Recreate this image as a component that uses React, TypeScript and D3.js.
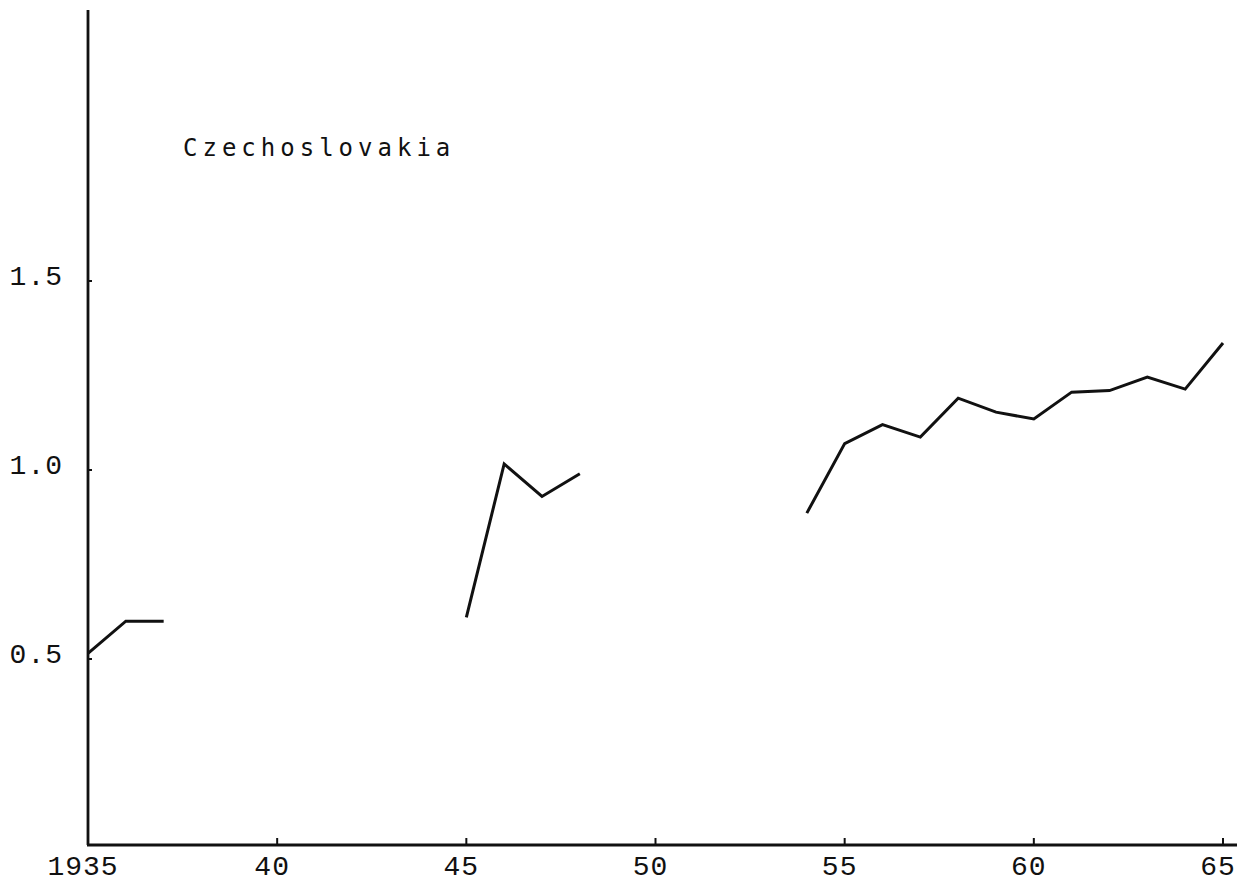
import { useEffect, useRef } from 'react'
import * as d3 from 'd3'

// years along the axis, value per year (null = no data, the line breaks)
const years = [
  1935, 1936, 1937, 1938, 1939, 1940, 1941, 1942, 1943, 1944,
  1945, 1946, 1947, 1948, 1949, 1950, 1951, 1952, 1953, 1954,
  1955, 1956, 1957, 1958, 1959, 1960, 1961, 1962, 1963, 1964, 1965,
]
const values: (number | null)[] = [
  0.515, 0.6, 0.6, null, null, null, null, null, null, null,
  0.61, 1.016, 0.93, 0.99, null, null, null, null, null, 0.886,
  1.07, 1.12, 1.087, 1.19, 1.153, 1.135, 1.206, 1.21, 1.246, 1.214, 1.336,
]

const xTicks = [1935, 1940, 1945, 1950, 1955, 1960, 1965]
const xTickLabels = ['1935', '40', '45', '50', '55', '60', '65']
const yTicks = [0.5, 1.0, 1.5]
const yTickLabels = ['0.5', '1.0', '1.5']
const countryLabel = 'Czechoslovakia'

const W = 1258
const H = 883

const App = () => {
  const svgRef = useRef<SVGSVGElement | null>(null)

  useEffect(() => {
    if (!svgRef.current) return
    const svg = d3.select(svgRef.current)
    svg.selectAll('*').remove()

    const x = d3.scaleLinear().domain([1935, 1965]).range([88, 1223])
    const y = d3.scaleLinear().domain([0, 1]).range([848, 470])

    const axisY = 845
    const ink = '#111'

    svg.append('rect').attr('width', W).attr('height', H).attr('fill', '#fff')

    // axes
    svg.append('line')
      .attr('x1', x(1935)).attr('x2', x(1935))
      .attr('y1', 10).attr('y2', axisY)
      .attr('stroke', ink).attr('stroke-width', 2.8)
    svg.append('line')
      .attr('x1', x(1935) - 1).attr('x2', 1237)
      .attr('y1', axisY).attr('y2', axisY)
      .attr('stroke', ink).attr('stroke-width', 2.8)

    // x ticks
    svg.append('g').selectAll('line')
      .data(xTicks.slice(1))
      .enter()
      .append('line')
      .attr('x1', d => x(d)).attr('x2', d => x(d))
      .attr('y1', axisY).attr('y2', axisY - 7)
      .attr('stroke', ink).attr('stroke-width', 2)

    svg.append('g').selectAll('text')
      .data(xTicks)
      .enter()
      .append('text')
      .attr('x', d => x(d) - 5)
      .attr('y', 875)
      .attr('text-anchor', 'middle')
      .attr('font-family', '"Liberation Mono", monospace')
      .attr('font-size', 28)
      .attr('letter-spacing', 1)
      .attr('fill', ink)
      .text((_, i) => xTickLabels[i])

    // y ticks
    svg.append('g').selectAll('line')
      .data(yTicks)
      .enter()
      .append('line')
      .attr('x1', x(1935)).attr('x2', x(1935) + 4)
      .attr('y1', d => y(d)).attr('y2', d => y(d))
      .attr('stroke', ink).attr('stroke-width', 2)

    svg.append('g').selectAll('text')
      .data(yTicks)
      .enter()
      .append('text')
      .attr('x', 63)
      .attr('y', d => y(d) + 4)
      .attr('text-anchor', 'end')
      .attr('font-family', '"Liberation Mono", monospace')
      .attr('font-size', 28)
      .attr('letter-spacing', 1)
      .attr('fill', ink)
      .text((_, i) => yTickLabels[i])

    // the series, broken where there is no data
    const pts = years.map((yr, i) => ({ yr, v: values[i] }))
    const line = d3.line<{ yr: number, v: number | null }>()
      .defined(d => d.v !== null)
      .x(d => x(d.yr))
      .y(d => y(d.v as number))

    svg.append('path')
      .datum(pts)
      .attr('fill', 'none')
      .attr('stroke', ink)
      .attr('stroke-width', 3)
      .attr('stroke-linejoin', 'miter')
      .attr('d', line)

    // country label
    svg.append('text')
      .attr('x', 183)
      .attr('y', 156)
      .attr('font-family', '"DejaVu Sans Mono", monospace')
      .attr('font-size', 24)
      .attr('letter-spacing', 5)
      .attr('fill', ink)
      .text(countryLabel)
  }, [])

  return (
    <svg
      ref={svgRef}
      width={W}
      height={H}
      style={{ position: 'absolute', left: 0, top: 0 }}
    />
  )
}

export default App
